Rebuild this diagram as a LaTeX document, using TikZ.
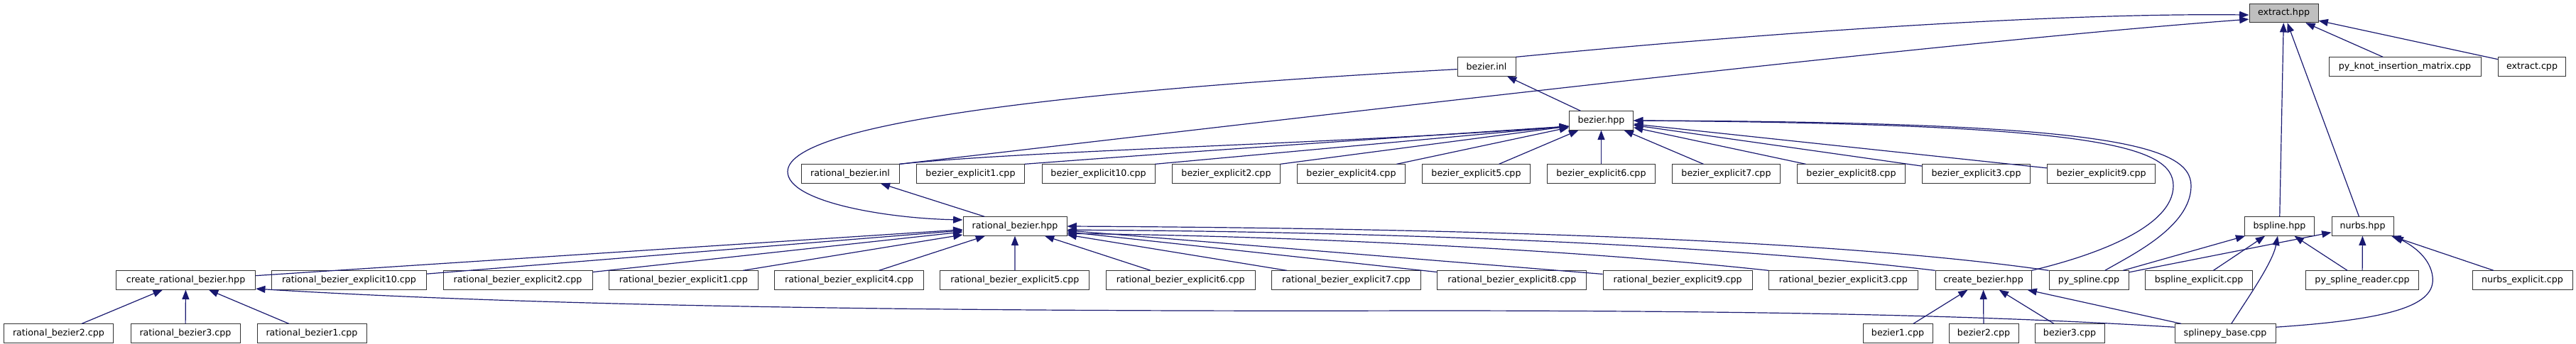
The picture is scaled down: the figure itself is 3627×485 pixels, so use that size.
\documentclass[tikz,border=0pt]{standalone}
\usepackage{fontspec}
\setmainfont{DejaVu Sans}
\usepackage{xcolor}
\usepackage{tikz}
\usetikzlibrary{arrows.meta}
\definecolor{EdgeBlue}{HTML}{191970}
\definecolor{RootGray}{HTML}{BFBFBF}
\definecolor{BoxLine}{HTML}{333333}

\begin{document}
\begin{tikzpicture}[
    x=0.75pt, y=-0.75pt,
    font=\fontsize{9.5}{11}\selectfont,
    file/.style={draw=BoxLine, line width=0.75pt, fill=white, inner sep=0pt, minimum height=19.75pt},
    root/.style={file, fill=RootGray},
    wd/.style={minimum width=#1*0.75pt},
    inc/.style={-{Triangle[length=10pt, width=7.5pt]}, line width=0.9pt, draw=EdgeBlue}
]
\useasboundingbox (0,0) rectangle (3627,485);
% rows 0-2
\node[root, wd=97] (xhpp) at (3215.5,18.5) {extract.hpp};
\node[file, wd=82] (binl) at (2093,94) {bezier.inl};
\node[file, wd=214] (pyknot) at (3386,94) {py\_knot\_insertion\_matrix.cpp};
\node[file, wd=95] (xcpp) at (3565,94) {extract.cpp};
\node[file, wd=90] (bhpp) at (2254.5,170) {bezier.hpp};
% row 3
\node[file, wd=138] (rbinl) at (1197,245) {rational\_bezier.inl};
\node[file, wd=151.5] (bx1) at (1366.5,245) {bezier\_explicit1.cpp};
\node[file, wd=159] (bx10) at (1546.5,245) {bezier\_explicit10.cpp};
\foreach \x [count=\i] in {2,4,5,6,7,8,3,9}
  \node[file, wd=151.5] (bx\x) at ({1726.5+176*(\i-1)},245) {bezier\_explicit\x.cpp};
% row 4
\node[file, wd=146] (rbhpp) at (1429,319) {rational\_bezier.hpp};
\node[file, wd=97.5] (bsp) at (3209.5,319) {bspline.hpp};
\node[file, wd=87] (nurbs) at (3326.5,319) {nurbs.hpp};
% row 5
\node[file, wd=196] (crb) at (261.6,395) {create\_rational\_bezier.hpp};
\node[file, wd=218] (rbx10) at (491.5,395) {rational\_bezier\_explicit10.cpp};
\foreach \x [count=\i] in {2,1,4,5,6,7,8,9,3}
  \node[file, wd=210] (rbx\x) at ({729+233.3*(\i-1)},395) {rational\_bezier\_explicit\x.cpp};
\node[file, wd=135] (cbz) at (2792.5,395) {create\_bezier.hpp};
\node[file, wd=112] (pysp) at (2941,395) {py\_spline.cpp};
\node[file, wd=150.5] (bspx) at (3096,395) {bspline\_explicit.cpp};
\node[file, wd=159] (pyspr) at (3326,395) {py\_spline\_reader.cpp};
\node[file, wd=141] (nurbsx) at (3551.5,395) {nurbs\_explicit.cpp};
% row 6
\node[file, wd=154] (rb2) at (82.5,470) {rational\_bezier2.cpp};
\node[file, wd=154] (rb3) at (261,470) {rational\_bezier3.cpp};
\node[file, wd=154] (rb1) at (439,470) {rational\_bezier1.cpp};
\node[file, wd=98] (bz1) at (2672,470) {bezier1.cpp};
\node[file, wd=98] (bz2) at (2793,470) {bezier2.cpp};
\node[file, wd=98] (bz3) at (2914,470) {bezier3.cpp};
\node[file, wd=142] (spb) at (3133,470) {splinepy\_base.cpp};

% straight edges
\foreach \x in {bsp,nurbs,pyknot,xcpp}{\draw[inc] (\x) -- (xhpp);}
\draw[inc] (bhpp) -- (binl);
\foreach \x in {bx4,bx5,bx6,bx7,bx8,bx3,bx9}{\draw[inc] (\x) -- (bhpp);}
\foreach \x in {bx10,bx2}{\draw[inc] (\x.north east) -- (bhpp.190);}
\draw[inc] (rbhpp) -- (rbinl);
\foreach \x in {crb,rbx10,rbx2,rbx1,rbx4,rbx5,rbx6,rbx7,rbx8,rbx9}{\draw[inc] (\x) -- (rbhpp);}
\foreach \x in {rb2,rb3,rb1}{\draw[inc] (\x) -- (crb);}
\foreach \x in {bz1,bz2,bz3,spb}{\draw[inc] (\x) -- (cbz);}
\foreach \x in {pysp,bspx,pyspr}{\draw[inc] (\x) -- (bsp);}
\foreach \x in {pysp,pyspr,nurbsx}{\draw[inc] (\x) -- (nurbs);}

% curved edges
\draw[inc] (binl.north east) .. controls (2500,45) and (2900,18) .. (xhpp.183);
\draw[inc] (rbinl.north east) .. controls (1800,170) and (2700,62) .. (xhpp.190);
\draw[inc] (binl.185) .. controls (1550,125) and (1109,170) .. (1109,242)
  .. controls (1109,285) and (1250,308) .. (rbhpp.173);
\draw[inc] (rbinl.north east) .. controls (1450,212) and (1900,202) .. (bhpp.190);
\draw[inc] (bx1.north east) .. controls (1700,212) and (1950,195) .. (bhpp.190);
\draw[inc] (cbz.north east) .. controls (2950,360) and (3060,320) .. (3060,262)
  .. controls (3060,205) and (2950,175) .. (bhpp.east);
\draw[inc] (pysp.31) .. controls (3000,360) and (3085,320) .. (3085,262)
  .. controls (3085,205) and (2970,172) .. (bhpp.east);
\draw[inc] (pysp.north west) .. controls (2600,340) and (2100,322) .. (rbhpp.east);
\draw[inc] (cbz.north west) .. controls (2450,348) and (2000,327) .. (rbhpp.-4);
\draw[inc] (rbx3.north west) .. controls (2250,355) and (1850,333) .. (rbhpp.-8);
\draw[inc] (spb.173) .. controls (2800,445) and (2500,438) .. (2000,438)
  .. controls (1200,440) and (700,428) .. (crb.-7);
\draw[inc] (spb) .. controls (3165,420) and (3200,370) .. (bsp);
\draw[inc] (spb.7) .. controls (3370,450) and (3430,430) .. (3425,390)
  .. controls (3422,365) and (3400,348) .. (nurbs.south east);
\end{tikzpicture}
\end{document}
